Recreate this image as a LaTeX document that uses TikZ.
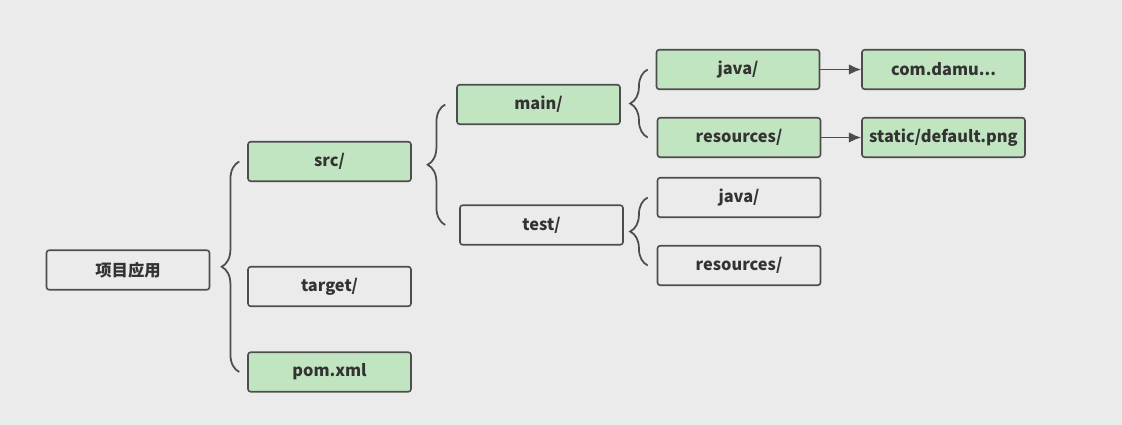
\documentclass[tikz,border=0pt]{standalone}
\usepackage{fontspec}
\setmainfont{Noto Sans CJK SC}
\usetikzlibrary{arrows.meta,decorations.pathreplacing,calc}
\definecolor{bgGray}{HTML}{EBEBEB}
\definecolor{boxGreen}{HTML}{C2E5C1}
\definecolor{lineGray}{HTML}{4D4D4D}
\definecolor{textGray}{HTML}{333333}

\begin{document}
\begin{tikzpicture}[x=0.02cm,y=-0.02cm,
  dirbox/.style={draw=lineGray,line width=0.9pt,rounded corners=1.5pt,
    minimum width=3.26cm,minimum height=0.79cm,inner sep=0pt,
    text=textGray,font=\fontsize{9.3}{11}\selectfont\bfseries},
  srcbox/.style={dirbox,fill=boxGreen},
  curly/.style={decorate,decoration={brace,amplitude=10pt},
    line width=1pt,lineGray},
  link/.style={-{Latex[length=7pt,width=6pt]},line width=1.1pt,lineGray}]
% Background
\fill[bgGray] (0,0) rectangle (1122,425);
% Top level
\node[dirbox] (root) at (128,270) {项目应用};
\node[srcbox] (src) at (329.5,161.5) {src/};
\node[dirbox] (target) at (329.5,286.5) {target/};
\node[srcbox] (pom) at (329.5,372) {pom.xml};
% src/
\node[srcbox] (main) at (538.5,104.5) {main/};
\node[dirbox] (test) at (541.5,225) {test/};
% main/ and test/
\node[srcbox] (mainjava) at (738,69.5) {java/};
\node[srcbox] (mainres) at (739,137.5) {resources/};
\node[dirbox] (testjava) at (739,197.5) {java/};
\node[dirbox] (testres) at (739,265.5) {resources/};
% Contents
\node[srcbox] (pkg) at (943.5,69.5) {com.damu...};
\node[srcbox] (static) at (943.5,137.5) {static/default.png};
% Braces
\coordinate (b1top) at ($(src.west)+(-8,0)$);
\coordinate (b2top) at ($(main.west)+(-11,0)$);
\coordinate (b3top) at ($(mainjava.west)+(-8,0)$);
\coordinate (b4top) at ($(testjava.west)+(-9,0)$);
\draw[curly] (b1top |- pom.west) -- (b1top);
\draw[curly] (b2top |- test.west) -- (b2top);
\draw[curly] (b3top |- mainres.west) -- (b3top);
\draw[curly] (b4top |- testres.west) -- (b4top);
% Arrows
\draw[link] (mainjava) -- (pkg);
\draw[link] (mainres) -- (static);
\end{tikzpicture}
\end{document}
